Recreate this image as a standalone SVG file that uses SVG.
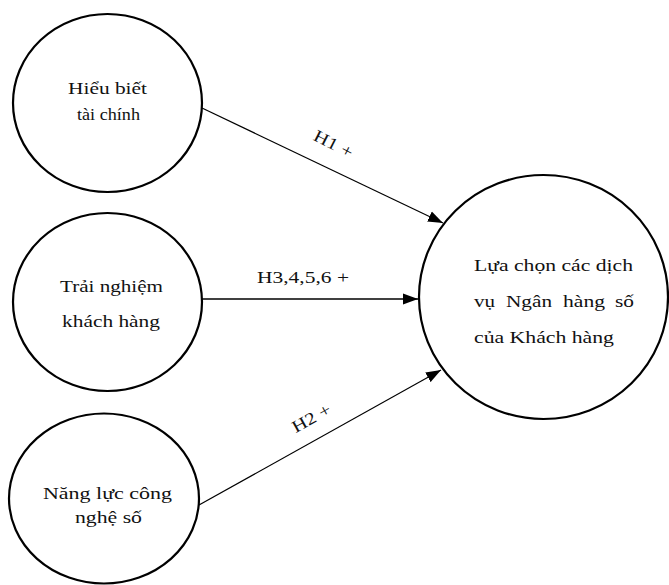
<svg xmlns="http://www.w3.org/2000/svg" width="669" height="585" viewBox="0 0 669 585">
<style>
.node{fill:#fff;stroke:#000;stroke-width:2.2}
.t{font-family:"Liberation Serif","Times New Roman",serif;font-size:17px;fill:#111}
.c{text-anchor:middle}
.edge{stroke:#000;fill:none}
</style>
<defs>
<marker id="arr" markerUnits="userSpaceOnUse" markerWidth="16" markerHeight="12" refX="15" refY="6" orient="auto">
<path d="M0,0.5 L15,6 L0,11.5 z" fill="#000"/>
</marker>
</defs>
<rect width="669" height="585" fill="#fff"/>
<g id="connectors">
<line class="edge" x1="202" y1="108" x2="443" y2="223" stroke-width="1.2" marker-end="url(#arr)"/>
<line class="edge" x1="202" y1="299" x2="418" y2="299" stroke-width="1.6" marker-end="url(#arr)"/>
<line class="edge" x1="199" y1="505" x2="441" y2="370" stroke-width="1.2" marker-end="url(#arr)"/>
<text class="t c" transform="translate(331,149) rotate(27)" textLength="42" lengthAdjust="spacingAndGlyphs">H1 +</text>
<text class="t c" x="303" y="283" textLength="92" lengthAdjust="spacingAndGlyphs">H3,4,5,6 +</text>
<text class="t c" transform="translate(314,423) rotate(-29)" textLength="42" lengthAdjust="spacingAndGlyphs">H2 +</text>
</g>
<g id="node-hieu-biet">
<ellipse class="node" cx="107.5" cy="103" rx="94.5" ry="89"/>
<text class="t c" x="107.5" y="94" textLength="79" lengthAdjust="spacingAndGlyphs">Hiểu biết</text>
<text class="t c" x="108.5" y="120" textLength="63" lengthAdjust="spacingAndGlyphs">tài chính</text>
</g>
<g id="node-trai-nghiem">
<ellipse class="node" cx="107.5" cy="302" rx="94.5" ry="89"/>
<text class="t c" x="111.5" y="292" textLength="103" lengthAdjust="spacingAndGlyphs">Trải nghiệm</text>
<text class="t c" x="111" y="327" textLength="98" lengthAdjust="spacingAndGlyphs">khách hàng</text>
</g>
<g id="node-nang-luc">
<ellipse class="node" cx="104" cy="498.5" rx="95" ry="85"/>
<text class="t c" x="107.5" y="499" textLength="129" lengthAdjust="spacingAndGlyphs">Năng lực công</text>
<text class="t c" x="108.5" y="523" textLength="67" lengthAdjust="spacingAndGlyphs">nghệ số</text>
</g>
<g id="node-lua-chon">
<ellipse class="node" cx="543.5" cy="297" rx="124.5" ry="122"/>
<text class="t" x="474" y="271" textLength="159" lengthAdjust="spacingAndGlyphs">Lựa chọn các dịch</text>
<text class="t" y="307"><tspan x="474" textLength="21" lengthAdjust="spacingAndGlyphs">vụ</tspan><tspan x="506" textLength="46" lengthAdjust="spacingAndGlyphs">Ngân</tspan><tspan x="563" textLength="42" lengthAdjust="spacingAndGlyphs">hàng</tspan><tspan x="615" textLength="19" lengthAdjust="spacingAndGlyphs">số</tspan></text>
<text class="t" x="474" y="343" textLength="140" lengthAdjust="spacingAndGlyphs">của Khách hàng</text>
</g>
</svg>
